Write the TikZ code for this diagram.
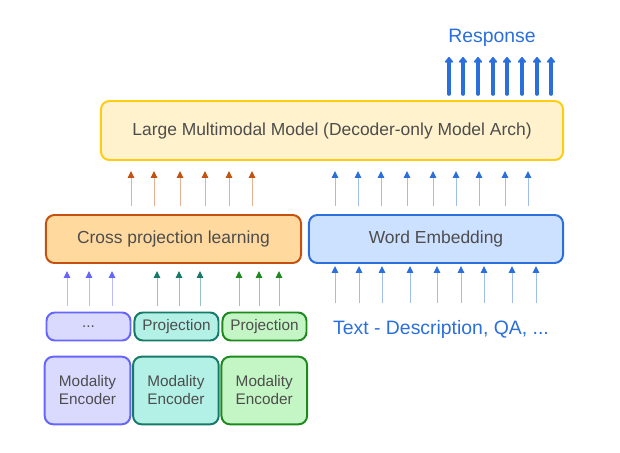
\documentclass[tikz,border=0pt]{standalone}
\usepackage{fontspec}
\setmainfont{Liberation Sans}
\usetikzlibrary{arrows.meta, positioning, calc}
\definecolor{mmText}{HTML}{4D4D4D}
\definecolor{mmBlue}{HTML}{2A6FDB}
\definecolor{lmmFill}{HTML}{FFF2CC}
\definecolor{lmmDraw}{HTML}{FFCC11}
\definecolor{cplFill}{HTML}{FFD99E}
\definecolor{cplDraw}{HTML}{C4510E}
\definecolor{weFill}{HTML}{CCE0FF}
\definecolor{weDraw}{HTML}{2A6FDB}
\definecolor{purFill}{HTML}{DADAFF}
\definecolor{purDraw}{HTML}{6666FF}
\definecolor{tealFill}{HTML}{B3F0E6}
\definecolor{tealDraw}{HTML}{167A68}
\definecolor{grnFill}{HTML}{C4F5C4}
\definecolor{grnDraw}{HTML}{1E8A1E}

\begin{document}
\begin{tikzpicture}[
    x=0.025cm, y=-0.025cm,
    box/.style={rectangle, rounded corners=6pt, line width=1.4pt,
                text=mmText, align=center, inner sep=2pt},
    bigbox/.style={box, font=\fontsize{12.4pt}{15pt}\selectfont},
    smallbox/.style={box, minimum width=2.1cm, minimum height=0.7cm,
                font=\fontsize{10.9pt}{13pt}\selectfont},
    encbox/.style={box, minimum width=2.14cm, minimum height=1.69cm,
                font=\fontsize{10.9pt}{12.8pt}\selectfont},
    bluelabel/.style={text=mmBlue, font=\fontsize{13.8pt}{16pt}\selectfont},
    feed/.style={line width=0.7pt, draw=#1!45,
                -{Triangle[width=0.16cm, length=0.17cm, color=#1]}},
    outarrow/.style={line width=2.6pt, draw=mmBlue, line cap=round,
                -{Triangle[round, width=0.24cm, length=0.15cm]}},
  ]
    \useasboundingbox (0,0) rectangle (620,453);

    % main blocks
    \node[bigbox, draw=lmmDraw, fill=lmmFill, minimum width=11.55cm,
          minimum height=1.475cm] (lmm) at (332,130.5)
          {Large Multimodal Model (Decoder-only Model Arch)};
    \node[bigbox, draw=cplDraw, fill=cplFill, minimum width=6.375cm,
          minimum height=1.2cm] (cpl) at (173.5,239) {Cross projection learning};
    \node[bigbox, draw=weDraw, fill=weFill, minimum width=6.35cm,
          minimum height=1.2cm] (we) at (436,239) {Word Embedding};

    % projections
    \node[smallbox, draw=purDraw, fill=purFill] (dots) at (88.5,326.5) {...};
    \node[smallbox, draw=tealDraw, fill=tealFill, right=0.05cm of dots] (proj1) {Projection};
    \node[smallbox, draw=grnDraw, fill=grnFill, right=0.05cm of proj1] (proj2) {Projection};

    % encoders
    \node[encbox, draw=purDraw, fill=purFill] (enc1) at (87.5,390.5) {Modality\\Encoder};
    \node[encbox, draw=tealDraw, fill=tealFill, right=0.02cm of enc1] (enc2) {Modality\\Encoder};
    \node[encbox, draw=grnDraw, fill=grnFill, right=0.02cm of enc2] (enc3) {Modality\\Encoder};

    % labels
    \node[bluelabel] (txt) at (441,329) {Text - Description, QA, ...};
    \node[bluelabel] (resp) at (492,38) {Response};

    % arrows
    \foreach \x in {131,154,180,205,229,252}{
      \coordinate (c) at (\x,0);
      \draw[feed=cplDraw] ([yshift=0.2cm]cpl.north -| c) -- ([yshift=-0.25cm]lmm.south -| c);
    }
    \foreach \x in {335,358,381,407,433,456,479,505,528}{
      \coordinate (c) at (\x,0);
      \draw[feed=weDraw] ([yshift=0.2cm]we.north -| c) -- ([yshift=-0.25cm]lmm.south -| c);
    }
    \foreach \x in {335,359,382,410,437,461,484,512,536}{
      \coordinate (c) at (\x,0);
      \draw[feed=weDraw] ([yshift=-0.975cm]we.south -| c) -- ([yshift=-0.05cm]we.south -| c);
    }
    \foreach \x in {67,89,112}{
      \coordinate (c) at (\x,0);
      \draw[feed=purDraw] ([yshift=0.15cm]dots.north -| c) -- ([yshift=-0.175cm]cpl.south -| c);
    }
    \foreach \x in {157,179,200}{
      \coordinate (c) at (\x,0);
      \draw[feed=tealDraw] ([yshift=0.15cm]proj1.north -| c) -- ([yshift=-0.175cm]cpl.south -| c);
    }
    \foreach \x in {239,259,279}{
      \coordinate (c) at (\x,0);
      \draw[feed=grnDraw] ([yshift=0.15cm]proj2.north -| c) -- ([yshift=-0.175cm]cpl.south -| c);
    }
    \foreach \x in {449,463,478,493,507,522,537,551}{
      \coordinate (c) at (\x,0);
      \draw[outarrow] ([yshift=0.15cm]lmm.north -| c) -- ([yshift=1.075cm]lmm.north -| c);
    }
  \end{tikzpicture}
\end{document}
